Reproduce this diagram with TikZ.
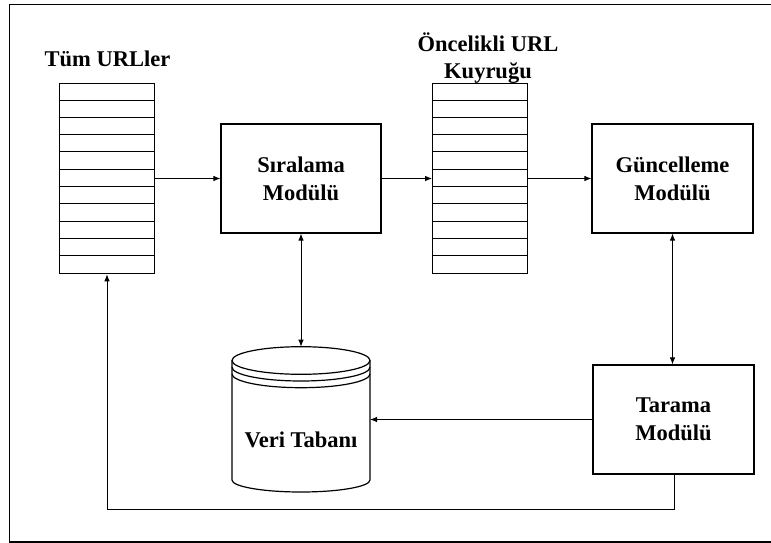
\documentclass[tikz,border=0pt]{standalone}
\usepackage{fontspec}
\setmainfont{Liberation Serif}
\usetikzlibrary{arrows.meta}
\begin{document}
\begin{tikzpicture}[x=1pt,y=-1pt,
  box/.style={draw, line width=1.2pt, minimum width=160pt, minimum height=109pt,
    inner sep=0pt, align=center, font=\bfseries\fontsize{22.5}{28}\selectfont},
  queue/.style={draw, line width=1.2pt, minimum width=95pt, minimum height=190.4pt, inner sep=0pt},
  lbl/.style={align=center, inner sep=0pt, font=\bfseries\fontsize{22.5}{27}\selectfont},
  tip/.tip={Latex[length=7pt,width=5.5pt]},
  link/.style={line width=0.9pt, -tip},
  both/.style={line width=0.9pt, tip-tip}]
\useasboundingbox (0,0) rectangle (771,543);
\begin{scope}
\clip (0,0) rectangle (771,543);
% outer frame
\draw[line width=1.2pt] (9.5,4.7) rectangle (780,542);
\end{scope}

% queues
\node[queue] (q1) at (107,178.5) {};
\node[queue] (q2) at (480.2,178.5) {};
\foreach \q in {q1,q2}
  \foreach \i in {1,...,10}
    \draw[line width=1pt] ([yshift=-\i*17.31pt]\q.north west) -- ([yshift=-\i*17.31pt]\q.north east);

\node[lbl] (l1) at (107.5,58.5) {Tüm URLler};
\node[lbl] (l2) at (488,58.4) {Öncelikli URL\\Kuyruğu};

% modules
\node[box] (sir) at (301,178.5) {Sıralama\\Modülü};
\node[box, minimum width=161pt] (gun) at (672.5,178.5) {Güncelleme\\Modülü};
\node[box, minimum width=161pt] (tar) at (673.5,419.5) {Tarama\\Modülü};

% database cylinder (y grows downward, so lower arcs run from 180 to 0)
\begin{scope}[line width=1.2pt]
  \draw (232,360.5) -- (232,480) arc[start angle=180,end angle=0,x radius=69,y radius=12] -- (370,360.5);
  \draw (301,360.5) ellipse[x radius=69,y radius=13.8];
  \draw (232,367.2) arc[start angle=180,end angle=0,x radius=69,y radius=13.8];
  \draw (232,373.9) arc[start angle=180,end angle=0,x radius=69,y radius=13.8];
\end{scope}
\coordinate (dbtop) at (301,346.7);
\coordinate (dbright) at (370,419.5);
\node[lbl] (db) at (301,440) {Veri Tabanı};

% connectors
\draw[link] (q1.east |- sir.west) -- (sir.west);
\draw[link] (sir.east) -- (q2.west |- sir.east);
\draw[link] (q2.east |- gun.west) -- (gun.west);
\draw[both] (sir.south) -- (dbtop);
\draw[both] (gun.south) -- (gun.south |- tar.north);
\draw[link] (tar.west) -- (dbright);
\coordinate (back) at (674,509);
\draw[link] (tar.south -| back) -- (back) -| (q1.south);
\end{tikzpicture}
\end{document}
